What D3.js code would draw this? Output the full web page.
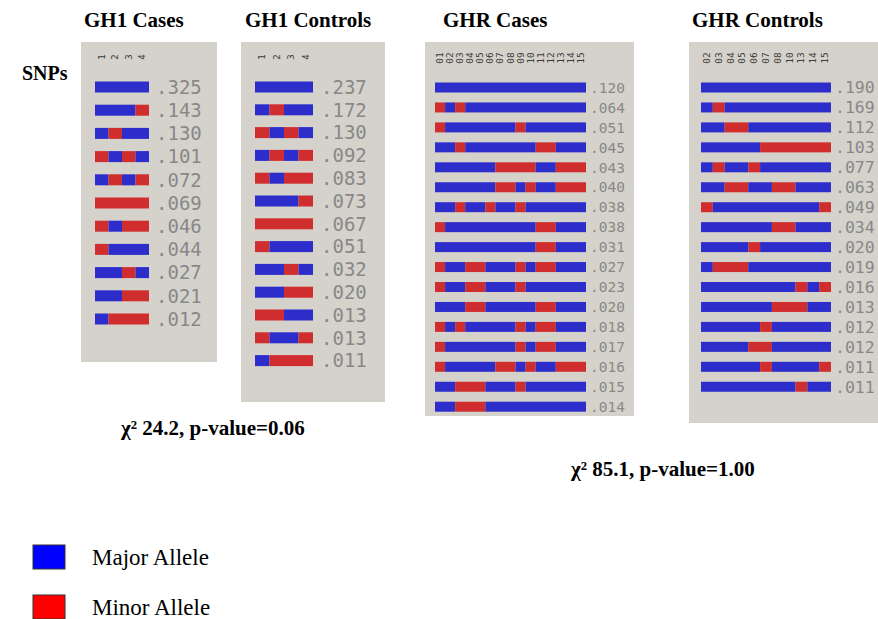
<!DOCTYPE html>
<html>
<head>
<meta charset="utf-8">
<script src="https://cdn.jsdelivr.net/npm/d3@7"></script>
<style>
  body { margin: 0; background: #fff; }
  svg { display: block; }
</style>
</head>
<body>
<div id="root"></div>
<script>
// haplotypes: 1 = major allele, 2 = minor allele (one char per SNP)
const gh1Snps = ['1', '2', '3', '4']
const gh1CasesHaps = ['1111', '1112', '1211', '2121', '1212', '2222', '2122', '2111', '1121', '1122', '1222']
const gh1CasesFreq = ['.325', '.143', '.130', '.101', '.072', '.069', '.046', '.044', '.027', '.021', '.012']
const gh1CtrlHaps = ['1111', '1211', '2121', '1212', '2122', '1112', '2222', '2111', '1121', '1122', '2211', '2112', '1222']
const gh1CtrlFreq = ['.237', '.172', '.130', '.092', '.083', '.073', '.067', '.051', '.032', '.020', '.013', '.013', '.011']

const ghrCasesSnps = ['01', '02', '03', '04', '05', '06', '07', '08', '09', '10', '11', '12', '13', '14', '15']
const ghrCasesHaps = [
  '111111111111111',
  '212111111111111',
  '211111112111111',
  '112111111122111',
  '111111222211222',
  '111111221211222',
  '112112112111111',
  '211111111122111',
  '111111111122111',
  '211221112122111',
  '211221112111111',
  '111221111122111',
  '212111112122111',
  '211111112122111',
  '211111221211222',
  '112221112111111',
  '112221111111111'
]
const ghrCasesFreq = ['.120', '.064', '.051', '.045', '.043', '.040', '.038', '.038', '.031', '.027', '.023', '.020', '.018', '.017', '.016', '.015', '.014']

const ghrCtrlSnps = ['02', '03', '04', '05', '06', '07', '08', '10', '13', '14', '15']
const ghrCtrlHaps = [
  '11111111111',
  '12111111111',
  '11221111111',
  '11111222222',
  '12112111111',
  '11221122111',
  '21111111112',
  '11111122111',
  '11112111111',
  '12221111111',
  '11111111212',
  '11111122211',
  '11111211111',
  '11112211111',
  '11111211112',
  '11111111211'
]
const ghrCtrlFreq = ['.190', '.169', '.112', '.103', '.077', '.063', '.049', '.034', '.020', '.019', '.016', '.013', '.012', '.012', '.011', '.011']

const titles = ['GH1 Cases', 'GH1 Controls', 'GHR Cases', 'GHR Controls']
const chiTexts = ['χ² 24.2, p-value=0.06', 'χ² 85.1, p-value=1.00']
const legendLabels = ['Major Allele', 'Minor Allele']

const colors = { '1': '#2d2dcb', '2': '#d02e2e' }
const legendColors = ['#0000ff', '#ff0000']

const panels = [
  { snps: gh1Snps, haps: gh1CasesHaps, freq: gh1CasesFreq, box: [81, 42, 217, 362], bx: [95, 149], y0: 87, step: 23.2, bh: 11, tx: 156, fs: 19, hy: 57, hfs: 9, title: [84, 27] },
  { snps: gh1Snps, haps: gh1CtrlHaps, freq: gh1CtrlFreq, box: [241, 42, 385, 402], bx: [255, 313], y0: 87, step: 22.8, bh: 11, tx: 321, fs: 19, hy: 57, hfs: 9, title: [245, 27] },
  { snps: ghrCasesSnps, haps: ghrCasesHaps, freq: ghrCasesFreq, box: [425, 42, 634, 416], bx: [435, 586], y0: 87.5, step: 19.95, bh: 10, tx: 590, fs: 14.5, hy: 58, hfs: 9.5, title: [443, 27] },
  { snps: ghrCtrlSnps, haps: ghrCtrlHaps, freq: ghrCtrlFreq, box: [689, 42, 878, 423], bx: [701, 831], y0: 87.5, step: 19.95, bh: 10, tx: 835, fs: 16.5, hy: 58, hfs: 9.5, title: [692, 27] }
]

// group consecutive equal alleles into runs so the bars have no seams
function runs(h, snps) {
  const out = []
  h.split('').forEach((a, k) => {
    const last = out[out.length - 1]
    if (last && last.a === a) last.end = snps[k]
    else out.push({ a, start: snps[k], end: snps[k] })
  })
  return out
}

const svg = d3.select('#root')
  .append('svg')
  .attr('width', 878)
  .attr('height', 619)

svg.append('text')
  .attr('x', 22).attr('y', 80)
  .attr('font-family', 'Liberation Serif, Times New Roman, serif')
  .attr('font-weight', 'bold')
  .attr('font-size', 20)
  .text('SNPs')

panels.forEach((p, i) => {
  const g = svg.append('g')

  g.append('rect')
    .attr('x', p.box[0]).attr('y', p.box[1])
    .attr('width', p.box[2] - p.box[0])
    .attr('height', p.box[3] - p.box[1])
    .attr('fill', '#d5d2cb')

  svg.append('text')
    .attr('x', p.title[0]).attr('y', p.title[1])
    .attr('font-family', 'Liberation Serif, Times New Roman, serif')
    .attr('font-weight', 'bold')
    .attr('font-size', 21)
    .text(titles[i])

  const x = d3.scaleBand().domain(p.snps).range(p.bx).padding(0)
  const y = d3.scaleLinear().domain([0, p.haps.length - 1]).range([p.y0, p.y0 + p.step * (p.haps.length - 1)])

  // rotated SNP labels on top
  g.selectAll('.snp')
    .data(p.snps)
    .join('text')
    .attr('transform', d => `translate(${x(d) + x.bandwidth() / 2 + 3}, ${p.hy}) rotate(-90)`)
    .attr('text-anchor', 'middle')
    .attr('font-family', 'DejaVu Sans Mono, monospace')
    .attr('font-size', p.hfs)
    .attr('fill', '#3a3a3a')
    .text(d => d)

  const rows = g.selectAll('.row')
    .data(p.haps)
    .join('g')
    .attr('transform', (d, r) => `translate(0, ${y(r)})`)

  rows.selectAll('rect')
    .data(h => runs(h, p.snps))
    .join('rect')
    .attr('x', d => x(d.start))
    .attr('y', -p.bh / 2)
    .attr('width', d => x(d.end) + x.bandwidth() - x(d.start))
    .attr('height', p.bh)
    .attr('fill', d => colors[d.a])

  rows.append('text')
    .attr('x', p.tx)
    .attr('y', 0)
    .attr('dy', '0.36em')
    .attr('font-family', 'DejaVu Sans Mono, monospace')
    .attr('font-size', p.fs)
    .attr('fill', '#888')
    .text((d, r) => p.freq[r])
})

svg.selectAll('.chi')
  .data(chiTexts)
  .join('text')
  .attr('x', (d, i) => [121, 571][i])
  .attr('y', (d, i) => [435, 476][i])
  .attr('font-family', 'Liberation Serif, Times New Roman, serif')
  .attr('font-weight', 'bold')
  .attr('font-size', 21)
  .text(d => d)

const leg = svg.selectAll('.leg')
  .data(legendLabels)
  .join('g')
  .attr('transform', (d, i) => `translate(33, ${545 + i * 50})`)

leg.append('rect')
  .attr('width', 32).attr('height', 24)
  .attr('fill', (d, i) => legendColors[i])
  .attr('stroke', '#333').attr('stroke-width', 1)

leg.append('text')
  .attr('x', 59).attr('y', 20)
  .attr('font-family', 'Liberation Serif, Times New Roman, serif')
  .attr('font-size', 23)
  .text(d => d)
</script>
</body>
</html>
